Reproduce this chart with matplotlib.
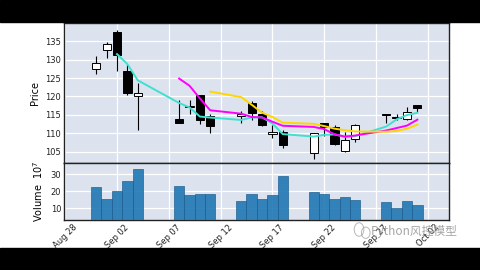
import matplotlib
matplotlib.use("Agg")
import matplotlib.pyplot as plt
import matplotlib.dates as mdates
from matplotlib.patches import Rectangle, Ellipse
import pandas as pd

# daily prices (AAPL, Aug 31 - Oct 01 2020)
dates = ['2020-08-31', '2020-09-01', '2020-09-02', '2020-09-03', '2020-09-04',
         '2020-09-08', '2020-09-09', '2020-09-10', '2020-09-11',
         '2020-09-14', '2020-09-15', '2020-09-16', '2020-09-17', '2020-09-18',
         '2020-09-21', '2020-09-22', '2020-09-23', '2020-09-24', '2020-09-25',
         '2020-09-28', '2020-09-29', '2020-09-30', '2020-10-01']
opens = [127.58, 132.76, 137.59, 126.91, 120.07,
         113.95, 117.26, 120.36, 114.57,
         114.72, 118.33, 115.23, 109.72, 110.40,
         104.54, 112.68, 111.62, 105.17, 108.43,
         115.01, 114.55, 113.79, 117.64]
highs = [131.00, 134.80, 137.98, 128.84, 123.70,
         118.99, 119.14, 120.50, 115.23,
         115.93, 118.83, 116.00, 112.20, 110.88,
         110.19, 112.86, 112.11, 110.25, 112.44,
         115.32, 115.31, 117.26, 117.72]
lows = [126.00, 130.53, 127.00, 120.50, 110.89,
        112.68, 115.26, 112.50, 110.00,
        112.80, 113.61, 112.04, 108.71, 106.09,
        103.10, 109.16, 106.77, 105.00, 107.67,
        112.78, 113.57, 113.62, 115.83]
closes = [129.04, 134.18, 131.40, 120.88, 120.96,
          112.82, 117.32, 113.49, 112.00,
          115.36, 115.54, 112.13, 110.34, 106.84,
          110.08, 111.81, 107.12, 108.22, 112.28,
          114.96, 114.09, 115.81, 116.79]
# volume in units of 1e7
volumes = [22.6, 15.2, 20.0, 25.8, 33.3,
           23.1, 17.7, 18.2, 18.1,
           14.0, 18.5, 15.5, 17.8, 28.7,
           19.6, 18.3, 15.1, 16.8, 15.0,
           13.8, 10.0, 14.3, 11.6]

mav_windows = [3, 6, 9]
mav_colors = ['#40e0d0', '#ff00ff', '#ffd700']

tick_dates = ['2020-08-28', '2020-09-02', '2020-09-07', '2020-09-12',
              '2020-09-17', '2020-09-22', '2020-09-27', '2020-10-02']

x = mdates.date2num(pd.to_datetime(dates))
face = '#DCE3EF'

fig = plt.figure(figsize=(4.8, 2.7), dpi=100)
fig.patch.set_facecolor('white')

ax = fig.add_axes([0.1333, 0.3963, 0.802, 0.5185])
ax2 = fig.add_axes([0.1333, 0.1852, 0.802, 0.2111], sharex=ax)

for a in (ax, ax2):
    a.set_facecolor(face)
    a.grid(True, color='white', linewidth=0.9)
    a.set_axisbelow(True)
    for s in a.spines.values():
        s.set_color('#222222')
        s.set_linewidth(1.0)
    a.tick_params(length=0, labelsize=6, pad=2, colors='#222222')

# candles: wicks then bodies
ax.vlines(x, lows, highs, color='black', linewidth=0.8, zorder=2)
bottoms = [min(o, c) for o, c in zip(opens, closes)]
heights = [max(abs(c - o), 0.15) for o, c in zip(opens, closes)]
colors = ['white' if c >= o else 'black' for o, c in zip(opens, closes)]
ax.bar(x, heights, bottom=bottoms, width=0.8, color=colors,
       edgecolor='black', linewidth=0.7, zorder=3)

# moving averages
close_s = pd.Series(closes)
for w, col in zip(mav_windows, mav_colors):
    ax.plot(x, close_s.rolling(w).mean(), color=col, linewidth=1.4, zorder=4)

ax.set_ylim(101.9, 140.0)
ax.set_yticks(range(105, 136, 5))
ax.set_ylabel('Price', fontsize=7)
ax.tick_params(axis='x', labelbottom=False)

# volume
ax2.bar(x, volumes, width=1.0, color='#1f77b4', alpha=0.9,
        edgecolor='#1a5a8a', linewidth=0.5, zorder=3)
ax2.set_ylim(3.0, 36.6)
ax2.set_yticks([10, 20, 30])
ax2.set_ylabel('Volume  $10^{7}$', fontsize=7)

ax2.set_xlim(x[0] - 3.12, x[-1] + 3.05)
ax2.set_xticks(mdates.date2num(pd.to_datetime(tick_dates)))
ax2.xaxis.set_major_formatter(mdates.DateFormatter('%b %d'))
for lbl in ax2.get_xticklabels():
    lbl.set_rotation(45)
    lbl.set_ha('center')

# letterbox bands
fig.patches.append(Rectangle((0, 1 - 22 / 270), 1, 22 / 270,
                             transform=fig.transFigure, color='black', zorder=10))
fig.patches.append(Rectangle((0, 0), 1, 22 / 270,
                             transform=fig.transFigure, color='black', zorder=10))

# watermark
fig.patches.append(Ellipse((0.748, 0.150), 0.020, 0.050, transform=fig.transFigure,
                           fill=False, edgecolor='#999999', linewidth=0.7, alpha=0.7))
fig.patches.append(Ellipse((0.762, 0.138), 0.018, 0.042, transform=fig.transFigure,
                           fill=False, edgecolor='#999999', linewidth=0.7, alpha=0.7))
fig.text(0.772, 0.144, 'Python风控模型', fontsize=8.5, color='#888888', alpha=0.75,
         va='center', family=['Noto Sans CJK SC', 'DejaVu Sans'])

fig.savefig('out.png', dpi=100)
